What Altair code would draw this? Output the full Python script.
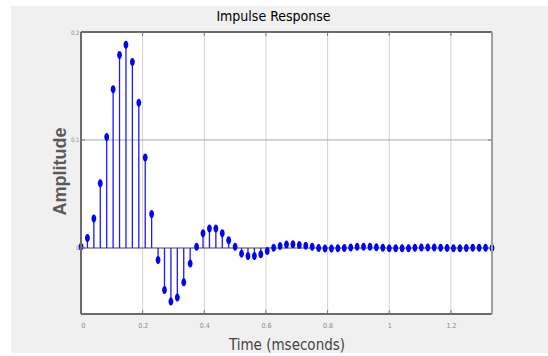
import altair as alt
import pandas as pd

# ---- text ----
title_text = "Impulse Response"
x_title = "Time (mseconds)"
y_title = "Amplitude"

# ---- data ----
fs_khz = 48  # sample rate in kHz -> sample spacing 1/48 ms
h = [0.0012, 0.0093, 0.0272, 0.0599, 0.1028, 0.1469, 0.1788, 0.1882, 0.1723, 0.1345,
     0.0838, 0.0315, -0.0111, -0.0389, -0.0497, -0.0460, -0.0318, -0.0145, 0.0012, 0.0136,
     0.0179, 0.0179, 0.0136, 0.0071, 0.0012, -0.0053, -0.0074, -0.0074, -0.0059, -0.0028,
     0.0002, 0.0018, 0.0031, 0.0034, 0.0028, 0.0020, 0.0010, -0.0001, -0.0006, -0.0006,
     -0.0004, 0.0000, 0.0005, 0.0010, 0.0012, 0.0010, 0.0006, 0.0002, -0.0002, -0.0004,
     -0.0004, -0.0002, 0.0001, 0.0003, 0.0004, 0.0003, 0.0001, -0.0001, -0.0002, -0.0002,
     -0.0001, 0.0001, 0.0002, 0.0001, 0.0000]
x_ticks = [0, 0.2, 0.4, 0.6, 0.8, 1.0, 1.2]
y_ticks = [0, 0.1, 0.2]
x_grid = [0.2, 0.4, 0.6, 0.8, 1.0, 1.2]
y_grid = [0.1]
x_domain = [0, 64 / 48]
y_domain = [-0.0612, 0.2]

W, H = 411, 282
NARROW = "Liberation Sans Narrow, DejaVu Sans Condensed, sans-serif"

df = pd.DataFrame({"t": [i / fs_khz for i in range(len(h))], "h": h})
one = pd.DataFrame({"a": [0]})
gx = pd.DataFrame({"v": x_grid})
gy = pd.DataFrame({"v": y_grid})
tyd = pd.DataFrame({"v": y_ticks})

xs = alt.Scale(domain=x_domain, nice=False, zero=False)
ys = alt.Scale(domain=y_domain, nice=False, zero=False)

x_axis = alt.Axis(values=x_ticks, format="~g", title=x_title, grid=False, domain=False, ticks=False,
                  labelFont=NARROW, labelFontSize=7, labelColor="#8a8a8a", labelPadding=7,
                  titleFont=NARROW, titleFontSize=15, titleColor="#444444", titleFontWeight="normal",
                  titleBaseline="alphabetic", titleY=35, zindex=1)
y_axis = alt.Axis(values=y_ticks, format="~g", title=y_title, grid=False, domain=False, ticks=False,
                  labelFont=NARROW, labelFontSize=6, labelColor="#8a8a8a", labelPadding=2,
                  titleFont="Liberation Sans, Arial, sans-serif", titleFontSize=18,
                  titleColor="#5a5a5a", titleFontWeight="bold", titleAngle=270,
                  titleBaseline="bottom", titleAlign="center", titleX=-12, titleY=139, zindex=1)

bg = alt.Chart(one).mark_rect(fill="#f0f0f0").encode(
    x=alt.value(-70), x2=alt.value(W + 56), y=alt.value(-26), y2=alt.value(H + 39))
plotbg = alt.Chart(one).mark_rect(fill="#ffffff").encode(
    x=alt.value(0), x2=alt.value(W), y=alt.value(0), y2=alt.value(H))

vgrid = alt.Chart(gx).mark_rule(color="#d2d2d2", strokeWidth=1).encode(
    x=alt.X("v:Q", scale=xs, axis=x_axis), y=alt.value(0), y2=alt.value(H))
hgrid = alt.Chart(gy).mark_rule(color="#a8a8a8", strokeWidth=1).encode(
    y=alt.Y("v:Q", scale=ys, axis=y_axis), x=alt.value(0), x2=alt.value(W))
base = alt.Chart(one).mark_rule(color="#808080", strokeWidth=1.5).encode(
    y=alt.datum(0, scale=ys, axis=y_axis), x=alt.value(0), x2=alt.value(W))

stems = alt.Chart(df).mark_rule(color="#1a1aff", strokeWidth=1.3).encode(
    x=alt.X("t:Q", scale=xs, axis=x_axis),
    y=alt.Y("h:Q", scale=ys, axis=y_axis),
    y2=alt.datum(0))

ellipse = "M0,-1A0.6,1,0,1,1,0,1A0.6,1,0,1,1,0,-1Z"
pts = alt.Chart(df).mark_point(shape=ellipse, filled=True, fill="#0000ff", opacity=1,
                               size=64, strokeWidth=0).encode(
    x=alt.X("t:Q", scale=xs, axis=x_axis), y=alt.Y("h:Q", scale=ys, axis=y_axis))

frame_col = "#6b6b6b"
top = alt.Chart(one).mark_rule(color=frame_col, strokeWidth=2).encode(
    x=alt.value(0), x2=alt.value(W), y=alt.value(0))
left = alt.Chart(one).mark_rule(color=frame_col, strokeWidth=2).encode(
    x=alt.value(0), y=alt.value(0), y2=alt.value(H))
bottom = alt.Chart(one).mark_rule(color=frame_col, strokeWidth=2).encode(
    x=alt.value(0), x2=alt.value(W), y=alt.value(H))
right = alt.Chart(one).mark_rule(color="#a0a0a0", strokeWidth=2).encode(
    x=alt.value(W), y=alt.value(0), y2=alt.value(H))

tb = alt.Chart(gx).mark_rule(color="#7a7a7a", strokeWidth=1).encode(
    x=alt.X("v:Q", scale=xs, axis=x_axis), y=alt.value(H - 4), y2=alt.value(H))
tt = alt.Chart(gx).mark_rule(color="#7a7a7a", strokeWidth=1).encode(
    x=alt.X("v:Q", scale=xs, axis=x_axis), y=alt.value(0), y2=alt.value(4))
tl = alt.Chart(tyd).mark_rule(color="#7a7a7a", strokeWidth=1).encode(
    y=alt.Y("v:Q", scale=ys, axis=y_axis), x=alt.value(0), x2=alt.value(4))
tr = alt.Chart(tyd).mark_rule(color="#7a7a7a", strokeWidth=1).encode(
    y=alt.Y("v:Q", scale=ys, axis=y_axis), x=alt.value(W - 4), x2=alt.value(W))

title = alt.Chart(one).mark_text(text=title_text, font=NARROW, fontSize=14, color="#000000",
                                 align="center", baseline="alphabetic").encode(
    x=alt.value(W / 2 - 13), y=alt.value(-11))

chart = alt.layer(bg, plotbg, vgrid, hgrid, base, stems, pts, tb, tt, tl, tr,
                  top, left, bottom, right, title).properties(
    width=W, height=H,
    autosize=alt.AutoSizeParams(type="none"),
    padding={"left": 81, "top": 32, "right": 56, "bottom": 42},
    background="#ffffff",
).configure_view(stroke=None)

chart.save("out.html", embed_options={"renderer": "svg", "actions": False})
